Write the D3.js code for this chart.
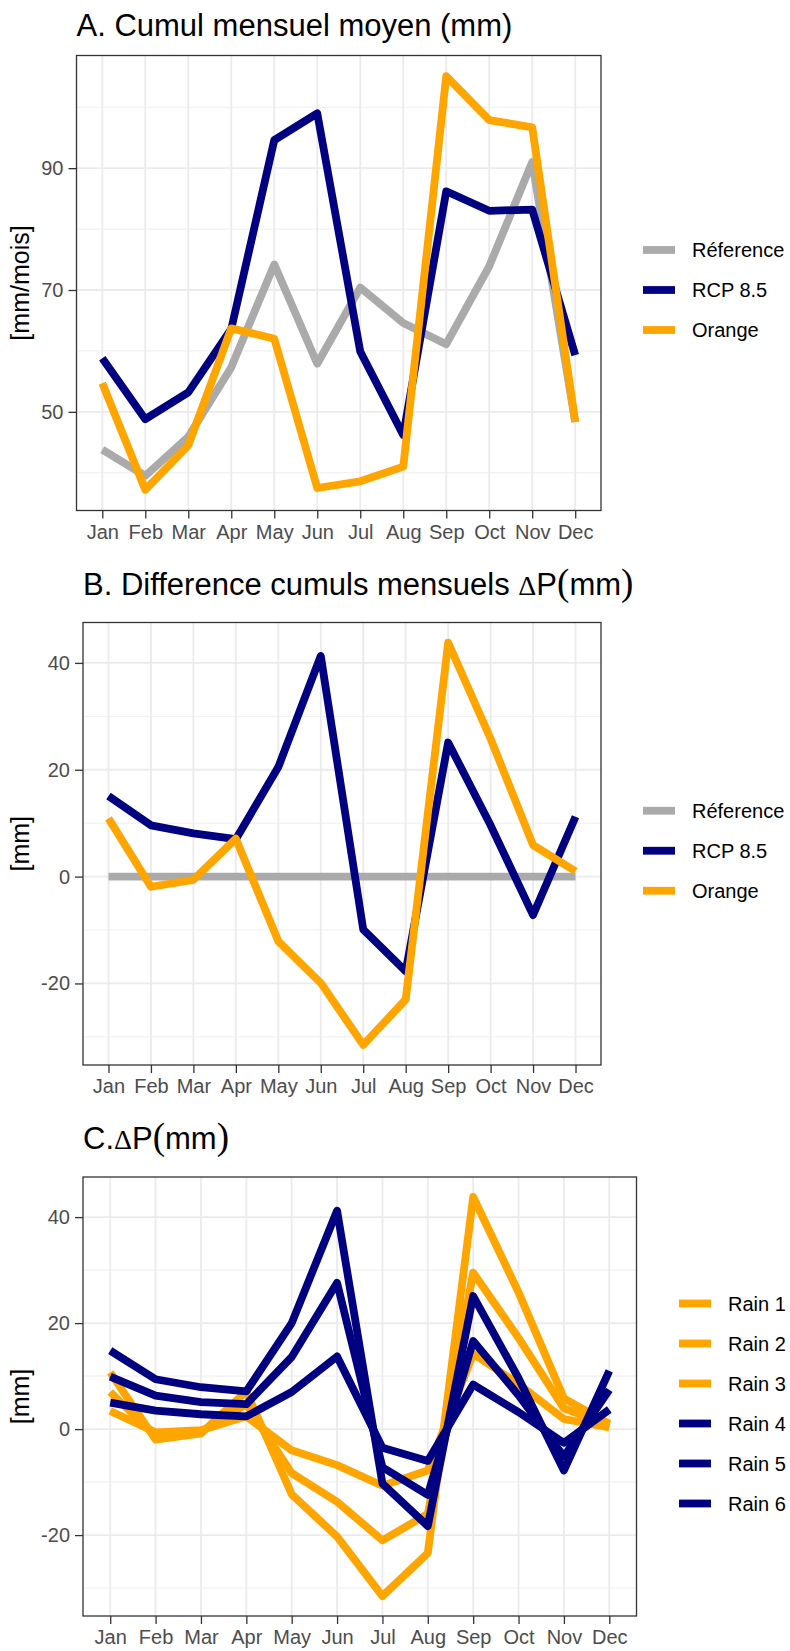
<!DOCTYPE html>
<html>
<head>
<meta charset="utf-8">
<script src="https://cdn.jsdelivr.net/npm/d3@7"></script>
<style>
  body { margin: 0; background: #fff; }
  svg { display: block; font-family: "Liberation Sans", Arial, sans-serif; }
</style>
</head>
<body>
<svg id="chart" width="790" height="1651"></svg>
<script>
// months on the x axis (shared by the three panels)
var months = ["Jan", "Feb", "Mar", "Apr", "May", "Jun", "Jul", "Aug", "Sep", "Oct", "Nov", "Dec"];

// A. monthly totals (mm/mois)
var refA    = [43.8, 39.5, 45.9, 57.3, 74.2, 57.9, 70.4, 64.6, 61.1, 73.9, 91.0, 48.3];
var rcpA    = [58.8, 48.8, 53.2, 63.6, 94.6, 99.0, 59.9, 46.2, 86.2, 83.0, 83.2, 59.3];
var orangeA = [54.7, 37.2, 44.5, 63.7, 62.0, 37.5, 38.6, 41.0, 105.1, 97.9, 96.7, 48.4];

// B. differences to the reference (mm)
var refB    = [0, 0, 0, 0, 0, 0, 0, 0, 0, 0, 0, 0];
var rcpB    = [15.1, 9.6, 8.1, 7.0, 20.5, 41.3, -9.9, -17.7, 25.1, 9.6, -7.2, 11.2];
var orangeB = [10.9, -1.9, -0.6, 7.1, -12.1, -19.9, -31.5, -23.0, 43.8, 25.8, 5.9, 1.0];

// C. six rain scenarios (mm)
var rain1 = [3.4, -0.6, -0.2, 2.4, -4.0, -6.8, -10.7, -7.8, 14.2, 8.5, 1.9, 0.3];
var rain2 = [7.0, -1.3, -0.5, 4.7, -8.3, -13.7, -21.0, -16.0, 29.5, 17.2, 3.9, 0.7];
var rain3 = [10.7, -2.0, -0.8, 7.1, -12.3, -20.3, -31.5, -23.4, 43.8, 25.8, 5.8, 1.0];
var rain4 = [14.8, 9.4, 7.9, 7.1, 20.0, 41.2, -10.3, -18.3, 25.1, 9.6, -7.8, 11.0];
var rain5 = [9.9, 6.3, 5.1, 4.7, 13.6, 27.6, -7.2, -12.4, 16.6, 6.4, -5.2, 7.4];
var rain6 = [5.0, 3.5, 2.8, 2.4, 7.0, 13.7, -3.5, -6.0, 8.4, 3.2, -2.6, 3.7];

var labelsAB = ["Réference", "RCP 8.5", "Orange"];
var labelsC  = ["Rain 1", "Rain 2", "Rain 3", "Rain 4", "Rain 5", "Rain 6"];

var ticksA = [50, 70, 90], minorA = [40, 60, 80, 100];
var ticksB = [-20, 0, 20, 40], minorB = [-30, -10, 10, 30];

var GREY = "#aaaaaa", NAVY = "#000080", ORANGE = "#ffa500";

var svg = d3.select("#chart");

// draws one ggplot-like panel (theme_bw) with lines and a legend on the right
function panel(opt) {
  var g = svg.append("g");
  var left = opt.box[0], right = opt.box[1], top = opt.box[2], bottom = opt.box[3];

  var x = d3.scalePoint().domain(months).range([left, right]).padding(0.6);

  var all = d3.merge(opt.series);
  var lo = d3.min(all), hi = d3.max(all), pad = (hi - lo) * 0.05;
  var y = d3.scaleLinear().domain([lo - pad, hi + pad]).range([bottom, top]);

  // grid
  g.selectAll(".minor").data(opt.minor).enter().append("line")
      .attr("x1", left).attr("x2", right)
      .attr("y1", function(d) { return y(d); }).attr("y2", function(d) { return y(d); })
      .style("stroke", "#ebebeb").style("stroke-width", 0.9);
  g.selectAll(".major").data(opt.ticks).enter().append("line")
      .attr("x1", left).attr("x2", right)
      .attr("y1", function(d) { return y(d); }).attr("y2", function(d) { return y(d); })
      .style("stroke", "#ebebeb").style("stroke-width", 1.8);
  g.selectAll(".vgrid").data(months).enter().append("line")
      .attr("x1", function(d) { return x(d); }).attr("x2", function(d) { return x(d); })
      .attr("y1", top).attr("y2", bottom)
      .style("stroke", "#ebebeb").style("stroke-width", 1.8);

  // lines
  var line = d3.line()
      .x(function(d, i) { return x(months[i]); })
      .y(function(d) { return y(d); });

  g.selectAll(".series").data(opt.series).enter().append("path")
      .attr("d", line)
      .style("fill", "none")
      .style("stroke", function(d, i) { return opt.colors[i]; })
      .style("stroke-width", 7.8)
      .style("stroke-linejoin", "round")
      .style("stroke-linecap", "butt");

  // border
  g.append("rect")
      .attr("x", left).attr("y", top)
      .attr("width", right - left).attr("height", bottom - top)
      .style("fill", "none").style("stroke", "#333").style("stroke-width", 1.3);

  // axes (plain hyphen for negatives, like R)
  var yAxis = g.append("g").attr("transform", "translate(" + left + ",0)")
      .call(d3.axisLeft(y).tickValues(opt.ticks).tickSize(8).tickPadding(5)
        .tickFormat(function(d) { return String(d); }));
  var xAxis = g.append("g").attr("transform", "translate(0," + bottom + ")")
      .call(d3.axisBottom(x).tickSize(8).tickPadding(6));
  [yAxis, xAxis].forEach(function(a) {
    a.select(".domain").remove();
    a.selectAll(".tick line").style("stroke", "#333").style("stroke-width", 1.3);
    a.selectAll(".tick text").style("fill", "#4d4d4d").style("font-size", "20px")
      .style("font-family", "'Liberation Sans', Arial, sans-serif");
  });

  // y title
  g.append("text")
      .attr("transform", "translate(28.5," + ((top + bottom) / 2) + ") rotate(-90)")
      .attr("text-anchor", "middle")
      .style("font-size", "25px")
      .text(opt.ylab);

  // plot title, with the plotmath-like serif bits
  var t = g.append("text")
      .attr("x", left).attr("y", top - opt.titleGap)
      .style("font-size", "31px");
  opt.title.forEach(function(p) {
    t.append("tspan")
      .style("font-family", p[1] ? "'Liberation Serif', 'Times New Roman', serif" : null)
      .style("font-size", p[2] || null)
      .text(p[0]);
  });

  // legend
  var n = opt.labels.length, mid = (top + bottom) / 2 + 7;
  var item = g.selectAll(".key").data(opt.labels).enter().append("g")
      .attr("transform", function(d, i) { return "translate(" + opt.legendX + "," + (mid + (i - (n - 1) / 2) * 40) + ")"; });
  item.append("line")
      .attr("x1", 0).attr("x2", 32).attr("y1", 0).attr("y2", 0)
      .style("stroke", function(d, i) { return opt.colors[i]; })
      .style("stroke-width", 7.8);
  item.append("text")
      .attr("x", 49).attr("dy", "0.35em")
      .style("font-size", "20px")
      .text(function(d) { return d; });
}

panel({
  box: [76.5, 601, 55.5, 510.5],
  series: [refA, rcpA, orangeA],
  colors: [GREY, NAVY, ORANGE],
  labels: labelsAB,
  ticks: ticksA, minor: minorA,
  ylab: "[mm/mois]",
  title: [["A. Cumul mensuel moyen (mm)"]],
  titleGap: 19.5,
  legendX: 643
});

panel({
  box: [83, 601, 622.5, 1065],
  series: [refB, rcpB, orangeB],
  colors: [GREY, NAVY, ORANGE],
  labels: labelsAB,
  ticks: ticksB, minor: minorB,
  ylab: "[mm]",
  title: [["B. Difference cumuls mensuels "], ["\u0394", true, "28px"], ["P"], ["(", true, "37px"], ["mm"], [")", true, "37px"]],
  titleGap: 27.7,
  legendX: 643
});

panel({
  box: [83, 636.5, 1177, 1616],
  series: [rain1, rain2, rain3, rain4, rain5, rain6],
  colors: [ORANGE, ORANGE, ORANGE, NAVY, NAVY, NAVY],
  labels: labelsC,
  ticks: ticksB, minor: minorB,
  ylab: "[mm]",
  title: [["C."], ["\u0394", true, "28px"], ["P"], ["(", true, "37px"], ["mm"], [")", true, "37px"]],
  titleGap: 28,
  legendX: 679
});
</script>
</body>
</html>
